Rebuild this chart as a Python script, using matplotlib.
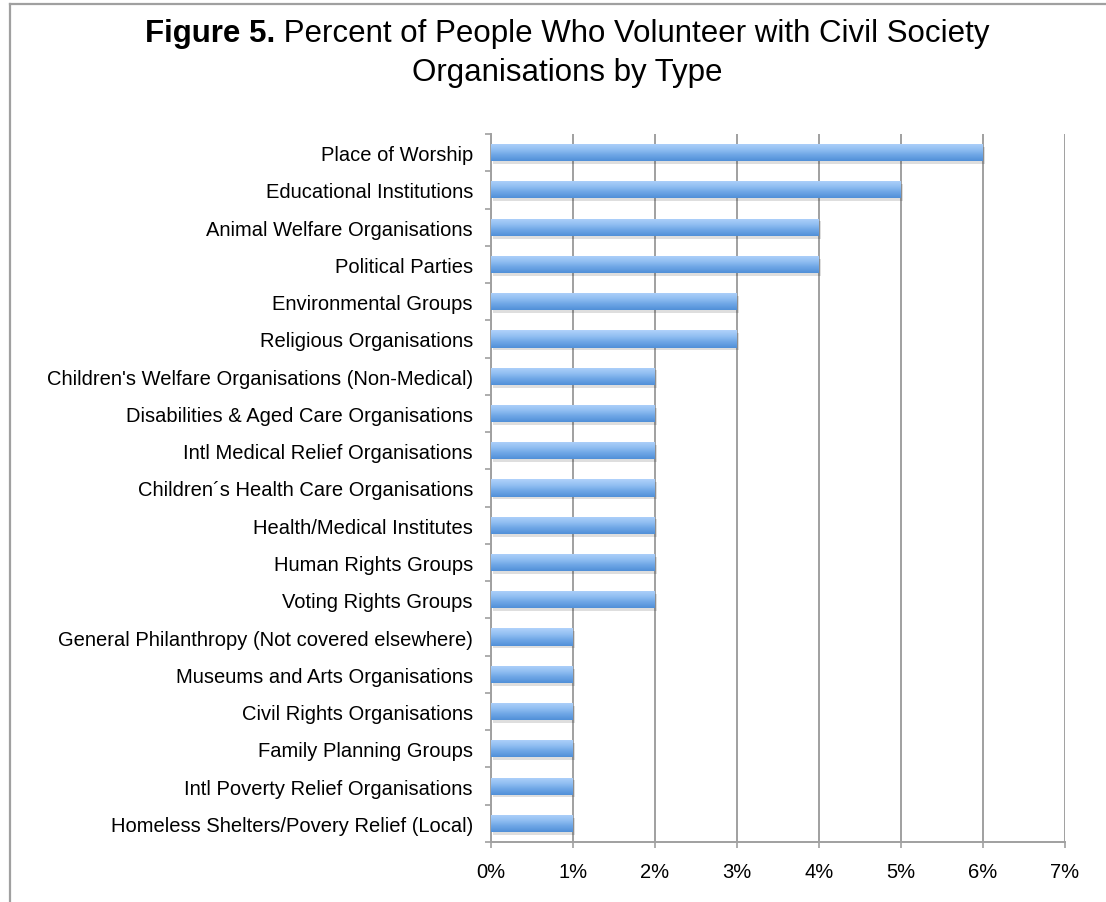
import numpy as np
import matplotlib
matplotlib.use("Agg")
import matplotlib.pyplot as plt
from matplotlib.colors import LinearSegmentedColormap
from matplotlib.ticker import FixedLocator, FuncFormatter
import matplotlib.patheffects as pe
from matplotlib.lines import Line2D

plt.rcParams['font.family'] = ['Liberation Sans', 'DejaVu Sans']

categories = [
    "Place of Worship",
    "Educational Institutions",
    "Animal Welfare Organisations",
    "Political Parties",
    "Environmental Groups",
    "Religious Organisations",
    "Children's Welfare Organisations (Non-Medical)",
    "Disabilities & Aged Care Organisations",
    "Intl Medical Relief Organisations",
    "Children\u00b4s Health Care Organisations",
    "Health/Medical Institutes",
    "Human Rights Groups",
    "Voting Rights Groups",
    "General Philanthropy (Not covered elsewhere)",
    "Museums and Arts Organisations",
    "Civil Rights Organisations",
    "Family Planning Groups",
    "Intl Poverty Relief Organisations",
    "Homeless Shelters/Povery Relief (Local)",
]
values = [6, 5, 4, 4, 3, 3, 2, 2, 2, 2, 2, 2, 2, 1, 1, 1, 1, 1, 1]
x_ticks = [0, 1, 2, 3, 4, 5, 6, 7]

W, H = 1106, 903
fig = plt.figure(figsize=(W / 100, H / 100), dpi=100)
ax = fig.add_axes([491 / W, 1 - 843 / H, (1065 - 491) / W, (843 - 135) / H])

gray = '#a0a0a0'
y = np.arange(len(categories))
bars = ax.barh(y, values, height=0.46, color='#86b7ef', zorder=3, linewidth=0)
cmap = LinearSegmentedColormap.from_list('b', ['#b0d2fb', '#93c0f2', '#6ea6e6', '#5190d8'])
grad = np.linspace(0, 1, 64).reshape(-1, 1)
for p in bars:
    p.set_path_effects([pe.SimplePatchShadow(offset=(1.2, -2.0), shadow_rgbFace='#000000', alpha=0.13), pe.Normal()])
    x0, y0, w, h = p.get_x(), p.get_y(), p.get_width(), p.get_height()
    im = ax.imshow(grad, extent=(x0, x0 + w, y0 + h, y0), origin='upper', cmap=cmap,
                   aspect='auto', zorder=4, interpolation='bilinear')
    im.set_clip_path(p)

ax.set_xlim(0, 7)
ax.set_ylim(len(categories) - 0.5, -0.5)

ax.xaxis.set_major_locator(FixedLocator(x_ticks))
ax.xaxis.set_major_formatter(FuncFormatter(lambda v, _: f"{int(round(v))}%"))
ax.set_yticks(y)
ax.set_yticklabels(categories)
ax.yaxis.set_minor_locator(FixedLocator(np.arange(-0.5, len(categories), 1)))

ax.tick_params(axis='y', which='major', length=0, pad=13, labelsize=14.5, labelcolor='#000000')
ax.tick_params(axis='y', which='minor', length=4.3, width=1.2, color=gray, direction='out')
ax.tick_params(axis='x', which='major', length=4.3, width=1.2, color=gray, direction='out',
               pad=10, labelsize=14.5, labelcolor='#000000')

for s in ['top', 'right']:
    ax.spines[s].set_visible(False)
for s in ['left', 'bottom']:
    ax.spines[s].set_color(gray)
    ax.spines[s].set_linewidth(1.4)

ax.grid(axis='x', color=gray, linewidth=1.4, zorder=1)
ax.set_axisbelow(True)

# frame lines (top and left)
fig.add_artist(Line2D([10 / W, 1.0], [1 - 5 / H, 1 - 5 / H], color='#a0a0a0', lw=1.6, transform=fig.transFigure))
fig.add_artist(Line2D([10 / W, 10 / W], [0, 1 - 5 / H], color='#a0a0a0', lw=1.6, transform=fig.transFigure))

# Title
fig.canvas.draw()
r = fig.canvas.get_renderer()
cx = 567 / W
tsize = 22.5
t1 = fig.text(0, 1 - 42 / H, "Figure 5.", fontsize=tsize, fontweight='bold', va='baseline', ha='left')
t2 = fig.text(0, 1 - 42 / H, " Percent of People Who Volunteer with Civil Society", fontsize=tsize,
              va='baseline', ha='left')
w1 = t1.get_window_extent(r).width
w2 = t2.get_window_extent(r).width
start = cx * W - (w1 + w2) / 2
t1.set_x(start / W)
t2.set_x((start + w1) / W)
fig.text(cx, 1 - 81 / H, "Organisations by Type", fontsize=tsize, va='baseline', ha='center')

fig.savefig('out.png', dpi=100)
